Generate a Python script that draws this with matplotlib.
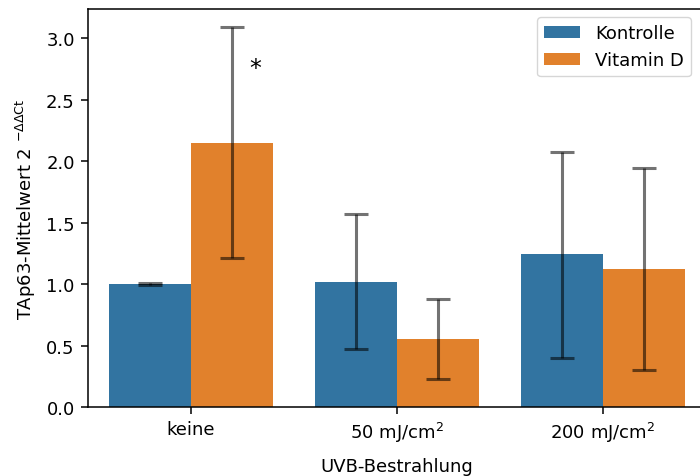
import matplotlib
matplotlib.use("Agg")
import matplotlib.pyplot as plt
import numpy as np

categories = ["keine", "50 mJ/cm$^2$", "200 mJ/cm$^2$"]
series_names = ["Kontrolle", "Vitamin D"]
kontrolle_mean = [1.00, 1.02, 1.24]
kontrolle_low = [0.995, 0.47, 0.40]
kontrolle_high = [1.005, 1.57, 2.07]
vitd_mean = [2.15, 0.55, 1.12]
vitd_low = [1.21, 0.23, 0.30]
vitd_high = [3.09, 0.88, 1.94]
colors = ["#3274A1", "#E1812C"]

FS = 13
plt.rcParams['mathtext.default'] = 'regular'
plt.rcParams['axes.linewidth'] = 1.1
plt.rcParams['xtick.major.size'] = 4.8
plt.rcParams['ytick.major.size'] = 4.8
plt.rcParams['xtick.major.width'] = 1.1
plt.rcParams['ytick.major.width'] = 1.1
plt.rcParams['xtick.major.pad'] = 4.7
plt.rcParams['ytick.major.pad'] = 4.7

fig = plt.figure(figsize=(7.0, 4.77), dpi=100)
ax = fig.add_axes([88/700, 1-408/477, (706-88)/700, (408-10)/477])

x = np.arange(len(categories))
w = 0.4
groups = [(kontrolle_mean, kontrolle_low, kontrolle_high), (vitd_mean, vitd_low, vitd_high)]
for i, (m, lo, hi) in enumerate(groups):
    xs = x - w/2 + i*w
    m = np.array(m); lo = np.array(lo); hi = np.array(hi)
    ax.bar(xs, m, width=w, color=colors[i], label=series_names[i], zorder=1)
    ax.errorbar(xs, m, yerr=[m-lo, hi-m], fmt='none', ecolor='black', alpha=0.55,
                elinewidth=2.2, capsize=8.6, capthick=2.2, zorder=3)

ax.text(0.31, 2.76, "*", fontsize=17, ha='center', va='center')

ax.set_xlim(-0.5, 2.5)
ax.set_ylim(0, 3.236)
ax.set_xticks(x)
ax.set_xticklabels(categories, fontsize=FS)
ax.set_yticks(np.arange(0, 3.01, 0.5))
ax.set_yticklabels([f"{v:.1f}" for v in np.arange(0, 3.01, 0.5)], fontsize=FS)
ax.set_xlabel("UVB-Bestrahlung", fontsize=FS, labelpad=9)
ax.set_ylabel(r"TAp63-Mittelwert 2 $^{-\Delta\Delta Ct}$", fontsize=FS, labelpad=6)

ax.legend(loc='upper right', bbox_to_anchor=(691/700, 1-18/477),
          bbox_transform=fig.transFigure, fontsize=FS, borderpad=0.4,
          handleheight=0.65, borderaxespad=0)

fig.savefig("out.png", dpi=100)
